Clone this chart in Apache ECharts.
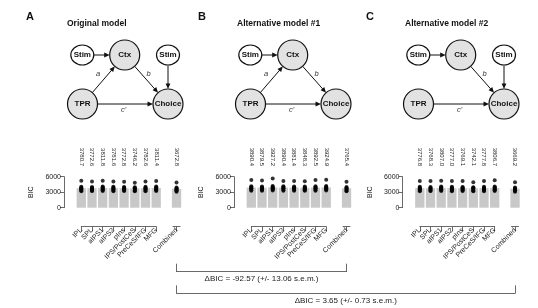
<!DOCTYPE html>
<html>
<head>
<meta charset="utf-8">
<script src="https://cdn.jsdelivr.net/npm/echarts@6/dist/echarts.min.js"></script>
<style>
  html, body { margin: 0; padding: 0; background: #fff; }
  #chart { width: 538px; height: 308px; }
</style>
</head>
<body>
<div id="chart"></div>
<script>
// ---------------- DATA ----------------
const regions = ['IPL', 'SPL', 'aIPS1', 'aIPS2', 'pIns', 'IPS/PostCeS', 'PreCeS/IFG', 'MFG'];
const combinedName = 'Combined';
const panelLetters = ['A', 'B', 'C'];
const panelTitles = ['Original model', 'Alternative model #1', 'Alternative model #2'];

// mean BIC per region (last value = Combined)
const bicOriginal = [3780.7, 3772.6, 3811.8, 3781.6, 3772.8, 3746.2, 3782.6, 3811.4, 3672.8];
const bicAlt1     = [3890.4, 3879.5, 3927.2, 3890.4, 3881.4, 3848.3, 3892.5, 3924.9, 3765.4];
const bicAlt2     = [3776.8, 3768.3, 3807.0, 3777.0, 3769.1, 3742.1, 3777.8, 3806.7, 3669.2];

// individual-subject BIC (rows: regions..., Combined)
const subjOriginal = [
  [5200, 4050, 3900, 3750, 3600, 3500, 3350, 3200],
  [5050, 4000, 3850, 3700, 3600, 3450, 3300, 3250],
  [5200, 4100, 3950, 3800, 3650, 3550, 3400, 3250],
  [5050, 4050, 3900, 3750, 3600, 3500, 3350, 3200],
  [5000, 4000, 3900, 3750, 3600, 3500, 3350, 3250],
  [4850, 3950, 3850, 3700, 3600, 3450, 3300, 3200],
  [5050, 4050, 3900, 3750, 3650, 3500, 3350, 3200],
  [5150, 4100, 3950, 3800, 3650, 3550, 3400, 3250],
  [4900, 3900, 3750, 3600, 3500, 3400, 3250, 3100]
];
const subjAlt1 = [
  [5350, 4150, 4000, 3850, 3750, 3600, 3450, 3300],
  [5250, 4100, 3950, 3850, 3700, 3600, 3450, 3300],
  [5650, 4200, 4050, 3900, 3750, 3650, 3500, 3350],
  [5150, 4150, 4000, 3850, 3750, 3600, 3450, 3300],
  [5150, 4100, 3950, 3850, 3700, 3600, 3450, 3300],
  [5100, 4100, 3950, 3800, 3700, 3550, 3400, 3300],
  [5350, 4150, 4000, 3850, 3750, 3600, 3450, 3300],
  [5400, 4200, 4050, 3900, 3750, 3650, 3500, 3350],
  [5000, 4000, 3850, 3700, 3600, 3450, 3300, 3200]
];
const subjAlt2 = [
  [5150, 4050, 3900, 3750, 3600, 3500, 3350, 3200],
  [5150, 4000, 3850, 3700, 3600, 3450, 3300, 3250],
  [5200, 4100, 3950, 3800, 3650, 3550, 3400, 3250],
  [5150, 4050, 3900, 3750, 3600, 3500, 3350, 3200],
  [5150, 4000, 3900, 3750, 3600, 3500, 3350, 3250],
  [4950, 3950, 3850, 3700, 3600, 3450, 3300, 3200],
  [5150, 4050, 3900, 3750, 3650, 3500, 3350, 3200],
  [5300, 4100, 3950, 3800, 3650, 3550, 3400, 3250],
  [4950, 3900, 3750, 3600, 3500, 3400, 3250, 3100]
];

const yTickMax = 6000;
const yTickStep = 3000;
const deltaLabels = ['\u0394BIC = -92.57 (+/- 13.06 s.e.m.)', '\u0394BIC = 3.65 (+/- 0.73 s.e.m.)'];

// ---------------- LAYOUT ----------------
const FONT = 'Liberation Sans, Arial, Helvetica, sans-serif';
const TXT = '#1a1a1a';
const AX = '#444';
const barColor = '#c8c8c8';
const nodeFill = '#e2e2e2';

const axisXs = [64, 234, 402.5];
const pitch = 10.7;
const firstOff = 17.3;
const combSlot = 9.9;       // slot position of Combined bar
const gridTop = 176.7, gridH = 31;
const labelAxisY = 167.5, bracketY = 226.7;

const bicSets = [bicOriginal, bicAlt1, bicAlt2];
const subjSets = [subjOriginal, subjAlt1, subjAlt2];

const grid = [], xAxis = [], yAxis = [], series = [];
const combXs = [];

function addGrid(g) { grid.push(g); return grid.length - 1; }

for (let p = 0; p < 3; p++) {
  const bic = bicSets[p], subj = subjSets[p];
  const firstX = axisXs[p] + firstOff;
  const combX = firstX + (combSlot - 1) * pitch;
  combXs.push(combX);
  const pos = regions.map((_, i) => i + 1).concat([combSlot]);

  // bars grid
  const gi = addGrid({ left: firstX - 0.5 * pitch, top: gridTop, width: combSlot * pitch, height: gridH });
  const xi = xAxis.length;
  xAxis.push({ gridIndex: gi, type: 'value', min: 0.5, max: combSlot + 0.5, show: false });
  const yi = yAxis.length;
  yAxis.push({
    gridIndex: gi, type: 'value', min: 0, max: yTickMax, interval: yTickStep,
    offset: firstOff - 0.5 * pitch,
    axisLine: { show: true, lineStyle: { color: AX, width: 0.8 } },
    axisTick: { show: true, length: 4, lineStyle: { color: AX, width: 0.8 } },
    axisLabel: { fontSize: 7, color: TXT, margin: 3, fontFamily: FONT, formatter: (v) => String(v) },
    splitLine: { show: false },
    name: 'BIC', nameLocation: 'middle', nameGap: 29,
    nameTextStyle: { fontSize: 7, color: TXT, fontFamily: FONT }
  });
  series.push({
    type: 'bar', xAxisIndex: xi, yAxisIndex: yi, barWidth: 9.3,
    itemStyle: { color: barColor },
    data: bic.map((v, i) => [pos[i], v]), z: 2
  });
  const pts = [];
  subj.forEach((row, i) => row.forEach(v => pts.push([pos[i], v])));
  series.push({
    type: 'scatter', xAxisIndex: xi, yAxisIndex: yi, symbolSize: 4,
    itemStyle: { color: '#000' }, data: pts, z: 3
  });

  // region label / bracket grid
  const lg = addGrid({ left: firstX, top: labelAxisY, width: 7 * pitch, height: bracketY - labelAxisY });
  xAxis.push({
    gridIndex: lg, type: 'category', boundaryGap: false, data: regions, position: 'bottom',
    axisLine: { show: true, lineStyle: { color: AX, width: 0.8 } },
    axisTick: { show: true, length: 4.5, lineStyle: { color: AX, width: 0.8 } },
    axisLabel: { rotate: 45, fontSize: 7, color: TXT, interval: 0, margin: 2.5, fontFamily: FONT }
  });
  yAxis.push({ gridIndex: lg, type: 'value', show: false });
  xAxis.push({
    gridIndex: lg, type: 'category', boundaryGap: false, position: 'top',
    data: bic.slice(0, regions.length).map(v => v.toFixed(1)),
    axisLine: { show: false }, axisTick: { show: false },
    axisLabel: { rotate: 90, fontSize: 6, color: TXT, interval: 0, margin: 1.5, fontFamily: FONT }
  });

  // combined label / bracket grid
  const cg = addGrid({ left: combX - 3.5, top: labelAxisY, width: 7, height: bracketY - labelAxisY });
  xAxis.push({
    gridIndex: cg, type: 'category', boundaryGap: false, data: ['', combinedName, ''], position: 'bottom',
    axisLine: { show: true, lineStyle: { color: AX, width: 0.8 } },
    axisTick: { show: true, length: 4.5, interval: (idx) => idx === 1, lineStyle: { color: AX, width: 0.8 } },
    axisLabel: { rotate: 45, fontSize: 7, color: TXT, interval: 0, margin: 2.5, fontFamily: FONT }
  });
  yAxis.push({ gridIndex: cg, type: 'value', show: false });
  xAxis.push({
    gridIndex: cg, type: 'category', boundaryGap: false, position: 'top',
    data: ['', bic[regions.length].toFixed(1), ''],
    axisLine: { show: false }, axisTick: { show: false },
    axisLabel: { rotate: 90, fontSize: 6, color: TXT, interval: 0, margin: 1.5, fontFamily: FONT }
  });
}

// delta-BIC comparison brackets
const deltaTops = [262, 283.6];
const deltaTargets = [1, 2];
deltaLabels.forEach((lab, k) => {
  const g = addGrid({ left: combXs[0], top: deltaTops[k], width: combXs[deltaTargets[k]] - combXs[0], height: 9.7 });
  xAxis.push({
    gridIndex: g, type: 'value', min: 0, max: 1, interval: 1,
    axisLine: { show: true, lineStyle: { color: AX, width: 0.8 } },
    axisTick: { show: true, inside: true, length: 8, lineStyle: { color: AX, width: 0.8 } },
    axisLabel: { show: false }, splitLine: { show: false },
    name: lab, nameLocation: 'middle', nameGap: 3,
    nameTextStyle: { fontSize: 8, color: TXT, fontFamily: FONT, verticalAlign: 'top' }
  });
  yAxis.push({ gridIndex: g, type: 'value', show: false });
});

// ---------------- DIAGRAMS (graphic) ----------------
const graphic = [];
const panelDx = [0, 168, 336];
function node(cx, cy, rx, ry, fill, label) {
  graphic.push({ type: 'ellipse', shape: { cx, cy, rx, ry }, style: { fill, stroke: '#111', lineWidth: 1.2 }, z: 10 });
  graphic.push({ type: 'text', style: { text: label, x: cx, y: cy - 0.5, font: 'bold 8px ' + FONT, fill: '#111', textAlign: 'center', textVerticalAlign: 'middle', verticalAlign: 'middle' }, z: 11 });
}
function arrow(a, b) {
  const dx = b.x - a.x, dy = b.y - a.y, d = Math.hypot(dx, dy);
  const ux = dx / d, uy = dy / d;
  const sx = a.x + ux * a.r, sy = a.y + uy * a.r;
  const tx = b.x - ux * b.r, ty = b.y - uy * b.r;
  const L = 5.5, W = 2.4;
  graphic.push({ type: 'line', shape: { x1: sx, y1: sy, x2: tx - ux * L * 0.7, y2: ty - uy * L * 0.7 }, style: { stroke: '#111', lineWidth: 1 }, z: 10 });
  graphic.push({ type: 'polygon', shape: { points: [[tx, ty], [tx - ux * L - uy * W, ty - uy * L + ux * W], [tx - ux * L + uy * W, ty - uy * L - ux * W]] }, style: { fill: '#111' }, z: 10 });
}
function elabel(t, x, y) {
  graphic.push({ type: 'text', style: { text: t, x, y, font: 'italic 7.5px ' + FONT, fill: '#333', textAlign: 'center', textVerticalAlign: 'middle', verticalAlign: 'middle' }, z: 11 });
}
const letterX = [30, 202, 370];
const titleX = [67, 237, 405];
for (let p = 0; p < 3; p++) {
  const o = panelDx[p];
  graphic.push({ type: 'text', style: { text: panelLetters[p], x: letterX[p], y: 17, font: 'bold 11px ' + FONT, fill: '#111', textAlign: 'center', textVerticalAlign: 'middle', verticalAlign: 'middle' } });
  graphic.push({ type: 'text', style: { text: panelTitles[p], x: titleX[p], y: 24, font: 'bold 8.5px ' + FONT, fill: '#111', textAlign: 'left', textVerticalAlign: 'middle', verticalAlign: 'middle' } });
  const stimL = { x: 82.3 + o, y: 55, r: 11.2 };
  const ctx = { x: 124.7 + o, y: 55, r: 15 };
  const stimR = { x: 168 + o, y: 55, r: 10.5 };
  const tpr = { x: 82.5 + o, y: 104, r: 15 };
  const choice = { x: 168 + o, y: 104, r: 15 };
  arrow(stimL, ctx);
  if (p !== 2) { arrow(tpr, ctx); elabel('a', 98 + o, 74); }
  arrow(ctx, choice); elabel('b', 148.5 + o, 74);
  if (p !== 1) arrow(stimR, choice);
  arrow(tpr, choice); elabel("c'", 123.5 + o, 109.5);
  node(stimL.x, stimL.y, 11.5, 10, '#fff', 'Stim');
  node(ctx.x, ctx.y, 15, 15, nodeFill, 'Ctx');
  if (p !== 1) node(stimR.x, stimR.y, 11.5, 10, '#fff', 'Stim');
  node(tpr.x, tpr.y, 15, 15, nodeFill, 'TPR');
  node(choice.x, choice.y, 15, 15, nodeFill, 'Choice');
}

const chart = echarts.init(document.getElementById('chart'), null, { renderer: 'canvas' });
chart.setOption({
  animation: false,
  backgroundColor: '#fff',
  textStyle: { fontFamily: FONT },
  grid, xAxis, yAxis, series, graphic
});
</script>
</body>
</html>
